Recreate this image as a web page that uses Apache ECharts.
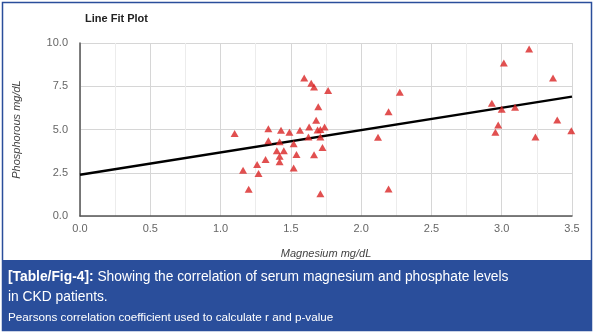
<!DOCTYPE html>
<html>
<head>
<meta charset="utf-8">
<script src="https://cdn.jsdelivr.net/npm/echarts@6/dist/echarts.min.js"></script>
<style>
html,body{margin:0;padding:0;background:#fff;}
#chart{width:596px;height:333px;}
</style>
</head>
<body>
<div id="chart"></div>
<script>
// Magnesium (mg/dL) values of each patient
var magnesium = [1.10,1.16,1.20,1.26,1.27,1.32,1.34,1.34,1.40,1.42,1.42,1.42,1.43,1.45,1.49,1.52,1.52,1.54,1.565,1.595,1.63,1.625,1.645,1.665,1.68,1.695,1.69,1.71,1.74,1.71,1.665,1.725,1.765,1.71,2.12,2.195,2.195,2.275,2.93,2.955,2.975,3.00,3.015,3.095,3.195,3.24,3.365,3.395,3.495];
// Phosphorous (mg/dL) values of each patient
var phosphorous = [4.77,2.65,1.55,2.98,2.46,3.27,5.05,4.35,3.77,4.29,3.46,3.13,4.95,3.77,4.84,4.18,2.78,3.55,4.96,7.97,5.15,4.57,7.68,7.45,5.53,6.32,4.97,5.00,5.15,4.56,3.54,3.96,7.25,1.28,4.55,6.03,1.56,7.16,6.52,4.84,5.26,6.17,8.84,6.29,9.65,4.57,7.97,5.55,4.93];
// Fitted line end points
var fitX = [0, 3.5];
var fitY = [2.38, 6.9];
var xTicks = [0, 0.5, 1.0, 1.5, 2.0, 2.5, 3.0, 3.5];
var yTicks = [0, 2.5, 5.0, 7.5, 10.0];

var points = magnesium.map(function (m, i) { return [m, phosphorous[i]]; });
var fitLine = fitX.map(function (x, i) { return [x, fitY[i]]; });

var blue = '#2a4e9b';
var font = 'Liberation Sans, Arial, sans-serif';
var chart = echarts.init(document.getElementById('chart'));
chart.setOption({
  animation: false,
  backgroundColor: '#fff',
  textStyle: { fontFamily: font },
  grid: { left: 80, right: 24, top: 43, bottom: 117, containLabel: false },
  title: {
    text: 'Line Fit Plot', left: 80, top: 8,
    textStyle: { fontSize: 11, fontWeight: 'bold', color: '#222', fontFamily: font }
  },
  xAxis: {
    type: 'value', min: xTicks[0], max: xTicks[xTicks.length - 1], interval: 0.5,
    name: 'Magnesium mg/dL', nameLocation: 'middle', nameGap: 32,
    nameTextStyle: { fontStyle: 'italic', fontSize: 11, color: '#444' },
    axisLine: { show: true, lineStyle: { color: '#555', width: 1.5 } },
    axisTick: { show: false },
    axisLabel: { color: '#666', fontSize: 11, margin: 7, formatter: function (v) { return v.toFixed(1); } },
    splitLine: { show: true, lineStyle: { color: '#d6d6d6', width: 1 } },
    minorTick: { show: false, splitNumber: 2 },
    minorSplitLine: { show: true, lineStyle: { color: '#ececec', width: 1 } }
  },
  yAxis: {
    type: 'value', min: yTicks[0], max: yTicks[yTicks.length - 1], interval: 2.5,
    name: 'Phosphorous mg/dL', nameLocation: 'middle', nameGap: 58,
    nameTextStyle: { fontStyle: 'italic', fontSize: 11, color: '#444' },
    axisLine: { show: true, lineStyle: { color: '#555', width: 1.5 } },
    axisTick: { show: false },
    axisLabel: { color: '#666', fontSize: 11, margin: 12, formatter: function (v) { return v.toFixed(1); } },
    splitLine: { show: true, lineStyle: { color: '#d6d6d6', width: 1 } }
  },
  series: [
    {
      type: 'line', data: fitLine, symbol: 'none', silent: true,
      lineStyle: { color: '#000', width: 2.5 }, z: 2
    },
    {
      type: 'scatter', data: points, symbol: 'triangle', symbolSize: [8, 7],
      itemStyle: { color: '#d92424' }, z: 3
    }
  ],
  graphic: [
    { type: 'rect', z: -10, silent: true, shape: { x: 2.5, y: 2.5, width: 589, height: 328 },
      style: { fill: '#fff', stroke: blue, lineWidth: 1.5 } },
    { type: 'rect', z: 10, silent: true, shape: { x: 2, y: 260, width: 590, height: 71 },
      style: { fill: blue } },
    { type: 'text', z: 11, left: 8, top: 270, silent: true,
      style: {
        text: '{b|[Table/Fig-4]:} Showing the correlation of serum magnesium and phosphate levels',
        fill: '#fff', fontSize: 13.8, fontFamily: font,
        rich: { b: { fontWeight: 'bold', fontSize: 13.8, fill: '#fff', fontFamily: font } }
      } },
    { type: 'text', z: 11, left: 8, top: 290, silent: true,
      style: { text: 'in CKD patients.', fill: '#fff', fontSize: 13.8, fontFamily: font } },
    { type: 'text', z: 11, left: 8, top: 312, silent: true,
      style: { text: 'Pearsons correlation coefficient used to calculate r and p-value', fill: '#fff', fontSize: 11.7, fontFamily: font } }
  ]
});
</script>
</body>
</html>
